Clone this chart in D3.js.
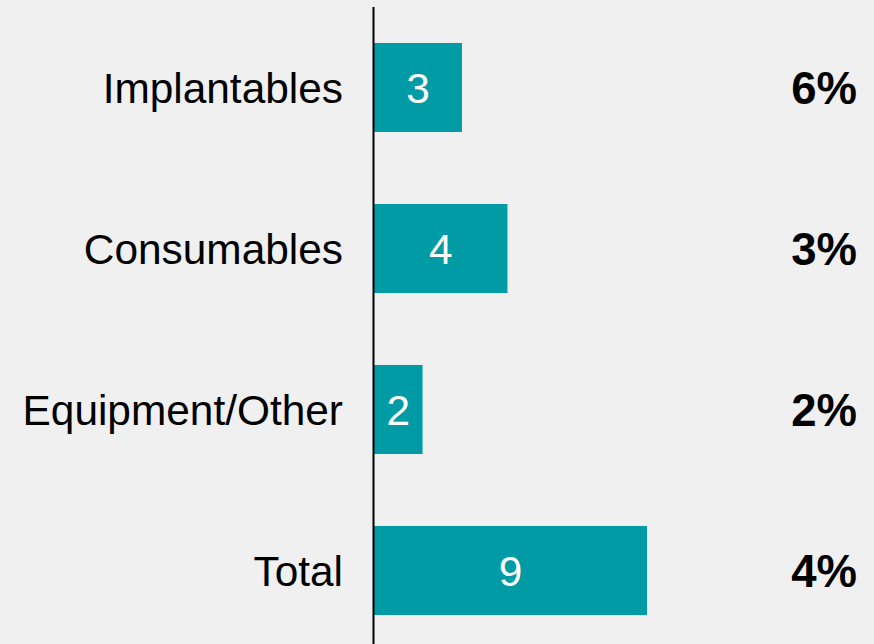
<!DOCTYPE html>
<html>
<head>
<meta charset="utf-8">
<script src="https://cdn.jsdelivr.net/npm/d3@7"></script>
<style>
  html, body { margin: 0; padding: 0; background: #f0f0f0; }
  svg { display: block; font-family: "Liberation Sans", Arial, sans-serif; }
</style>
</head>
<body>
<svg id="chart"></svg>
<script>
// chart data
const categories = ["Implantables", "Consumables", "Equipment/Other", "Total"];
const values = [2.9, 4.4, 1.6, 9.0];
const valueLabels = ["3", "4", "2", "9"];
const growthLabels = ["6%", "3%", "2%", "4%"];

const width = 874;
const height = 644;
const axisX = 374;

let svg = d3.select("#chart")
  .attr("width", width)
  .attr("height", height);

svg.append("rect")
  .attr("width", width)
  .attr("height", height)
  .attr("fill", "#f0f0f0");

let x = d3.scaleLinear()
  .domain([0, 9])
  .range([axisX, 647]);

let y = d3.scaleBand()
  .domain(categories)
  .range([7, 651])
  .paddingInner(0.447)
  .paddingOuter(0.2235);

let rows = categories.map((c, i) => ({
  cat: c,
  value: values[i],
  label: valueLabels[i],
  growth: growthLabels[i]
}));

svg.selectAll(".bar")
  .data(rows)
  .enter()
  .append("rect")
  .attr("class", "bar")
  .attr("x", x(0))
  .attr("y", d => y(d.cat))
  .attr("width", d => x(d.value) - x(0))
  .attr("height", y.bandwidth())
  .attr("fill", "#009ba4");

// category labels
svg.selectAll(".cat")
  .data(rows)
  .enter()
  .append("text")
  .attr("class", "cat")
  .attr("x", axisX - 31)
  .attr("y", d => y(d.cat) + y.bandwidth() / 2)
  .attr("dy", "0.36em")
  .attr("text-anchor", "end")
  .attr("font-size", 42.4)
  .attr("fill", "#000")
  .text(d => d.cat);

// value labels in bars
svg.selectAll(".val")
  .data(rows)
  .enter()
  .append("text")
  .attr("class", "val")
  .attr("x", d => (x(0) + x(d.value)) / 2)
  .attr("y", d => y(d.cat) + y.bandwidth() / 2)
  .attr("dy", "0.36em")
  .attr("text-anchor", "middle")
  .attr("font-size", 42.4)
  .attr("fill", "#fff")
  .text(d => d.label);

// growth labels
svg.selectAll(".growth")
  .data(rows)
  .enter()
  .append("text")
  .attr("class", "growth")
  .attr("x", 857)
  .attr("y", d => y(d.cat) + y.bandwidth() / 2)
  .attr("dy", "0.36em")
  .attr("text-anchor", "end")
  .attr("font-size", 45.5)
  .attr("font-weight", "bold")
  .attr("fill", "#000")
  .text(d => d.growth);

// baseline axis
svg.append("line")
  .attr("x1", axisX - 0.5)
  .attr("x2", axisX - 0.5)
  .attr("y1", 7)
  .attr("y2", height)
  .attr("stroke", "#000")
  .attr("stroke-width", 2);
</script>
</body>
</html>
